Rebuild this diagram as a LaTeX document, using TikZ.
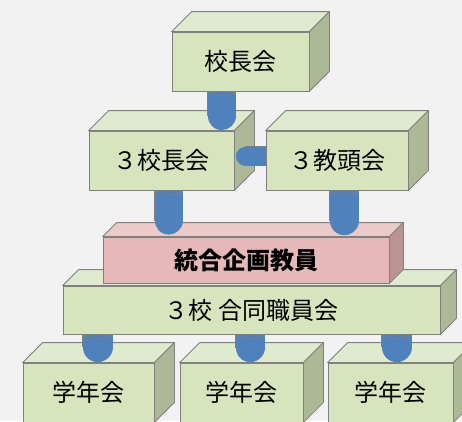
\documentclass[tikz,border=0pt]{standalone}
\usepackage{fontspec}
\setmainfont{Noto Sans CJK JP}
\definecolor{bgc}{RGB}{242,242,242}
\definecolor{edgec}{RGB}{128,128,128}
\definecolor{gfront}{RGB}{215,228,189}
\definecolor{gtop}{RGB}{224,234,206}
\definecolor{gside}{RGB}{173,184,151}
\definecolor{pfront}{RGB}{230,185,184}
\definecolor{ptop}{RGB}{236,202,201}
\definecolor{pside}{RGB}{185,148,147}
\definecolor{cblue}{RGB}{79,129,189}
\newcommand{\cubefaces}[3]{%
  \draw[face, fill=#3top] (#1.north west) -- ++(#2,-#2) -- ([shift={(#2,-#2)}]#1.north east) -- (#1.north east) -- cycle;
  \draw[face, fill=#3side] (#1.north east) -- ++(#2,-#2) -- ([shift={(#2,-#2)}]#1.south east) -- (#1.south east) -- cycle;
}
\tikzset{
  face/.style={draw=edgec, line width=0.8pt, line join=round},
  gbox/.style={face, fill=gfront, inner sep=0pt, font=\fontsize{24pt}{24pt}\selectfont},
  pbox/.style={face, fill=pfront, inner sep=0pt, font=\fontsize{24pt}{24pt}\selectfont\bfseries},
  conn/.style={draw=cblue, line width=#1, line cap=round, preaction={draw=edgec, line width=#1+1.6pt}},
  rim/.style={draw=edgec, line width=0.8pt}
}
\begin{document}
\begin{tikzpicture}[x=1pt,y=-1pt]
\useasboundingbox (0,0) rectangle (462,421);
\fill[bgc] (0,0) rectangle (462,421);
\clip (0,0) rectangle (462,421);
% bottom boxes
\node[gbox, minimum width=131pt, minimum height=59pt] (g1) at (88.5,392.5) {学年会};
\cubefaces{g1}{20}{g}
\node[gbox, minimum width=123pt, minimum height=59pt] (g2) at (241.5,392.5) {学年会};
\cubefaces{g2}{20}{g}
\node[gbox, minimum width=125pt, minimum height=59pt] (g3) at (390.5,392.5) {学年会};
\cubefaces{g3}{20}{g}
% big green box
\coordinate (c1) at (97.5,0);
\coordinate (c2) at (250,0);
\coordinate (c3) at (396.5,0);
\node[gbox, minimum width=377pt, minimum height=48pt] (gj) at (251.5,310) {３校 合同職員会};
\draw[conn=30pt] (gj.south -| c1) -- ([yshift=15.5pt]g1.north -| c1);
\draw[rim] (gj.south -| c1) ellipse [x radius=15pt, y radius=4pt];
\draw[conn=29pt] (gj.south -| c2) -- ([yshift=15pt]g2.north -| c2);
\draw[rim] (gj.south -| c2) ellipse [x radius=14.5pt, y radius=4pt];
\draw[conn=30pt] (gj.south -| c3) -- ([yshift=15.5pt]g3.north -| c3);
\draw[rim] (gj.south -| c3) ellipse [x radius=15pt, y radius=4pt];
\node[gbox, minimum width=377pt, minimum height=48pt] at (gj) {３校 合同職員会};
\cubefaces{gj}{16}{g}
% pink box
\node[pbox, minimum width=286pt, minimum height=46pt] (pk) at (246,260) {統合企画教員};
\cubefaces{pk}{14}{p}
% middle boxes
\coordinate (c4) at (168.5,0);
\coordinate (c5) at (344,0);
\coordinate (c6) at (221.5,0);
\node[gbox, minimum width=145pt, minimum height=59pt] (k3a) at (161.5,160.5) {３校長会};
\node[gbox, minimum width=142pt, minimum height=59pt] (k3b) at (337,160.5) {３教頭会};
\draw[conn=28pt] (k3a.south -| c4) -- ([yshift=16pt]pk.north -| c4);
\draw[rim] (k3a.south -| c4) ellipse [x radius=14pt, y radius=4pt];
\draw[conn=29pt] (k3b.south -| c5) -- ([yshift=16pt]pk.north -| c5);
\draw[rim] (k3b.south -| c5) ellipse [x radius=14.5pt, y radius=4pt];
\node[gbox, minimum width=145pt, minimum height=59pt] at (k3a) {３校長会};
\cubefaces{k3a}{20}{g}
\draw[conn=19pt] ([yshift=4.5pt]k3b.west) -- ([xshift=11pt,yshift=4.5pt]k3a.east);
\node[gbox, minimum width=142pt, minimum height=59pt] at (k3b) {３教頭会};
\cubefaces{k3b}{20}{g}
% top box
\node[gbox, minimum width=137pt, minimum height=59pt] (kc) at (240.5,61.5) {校長会};
\draw[conn=28pt] (kc.south -| c6) -- ([yshift=14.5pt]k3a.north -| c6);
\draw[rim] (kc.south -| c6) ellipse [x radius=14pt, y radius=4pt];
\node[gbox, minimum width=137pt, minimum height=59pt] at (kc) {校長会};
\cubefaces{kc}{20}{g}
\end{tikzpicture}
\end{document}
